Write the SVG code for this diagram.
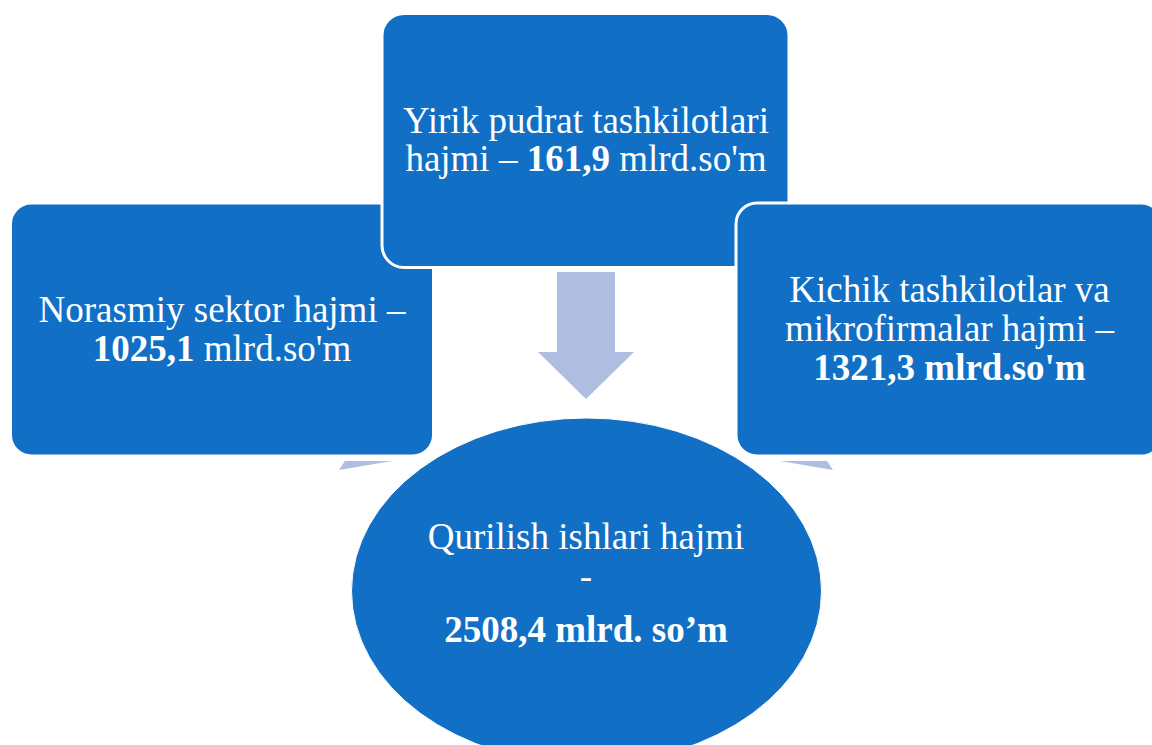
<svg xmlns="http://www.w3.org/2000/svg" width="1152" height="745" viewBox="0 0 1152 745">
<style>
.box{fill:#1170C6;stroke:#FFFFFF;stroke-width:3}
.conn{fill:#AEBDE0;stroke:none}
.t{font-family:"Liberation Serif","Times New Roman",serif;font-size:37px;fill:#FFFFFF;text-anchor:middle}
.b{font-weight:bold}
</style>
<rect width="1152" height="745" fill="#FFFFFF"/>
<g id="connectors">
<polygon class="conn" points="557,272 615,272 615,352 634,352 586,399 538,352 557,352"/>
<polygon class="conn" points="345,461 392,461 339,470"/>
<polygon class="conn" points="780,461 827,461 833,470"/>
</g>
<g id="node-left">
<rect class="box" x="10.5" y="203" width="423" height="253" rx="21"/>
<text class="t" x="222" y="322">Norasmiy sektor hajmi –</text>
<text class="t" x="222" y="361"><tspan class="b">1025,1</tspan> mlrd.so'm</text>
</g>
<g id="node-top">
<rect class="box" x="382" y="13.5" width="407" height="254" rx="22"/>
<text class="t" x="586" y="133">Yirik pudrat tashkilotlari</text>
<text class="t" x="586" y="170.5">hajmi – <tspan class="b">161,9</tspan> mlrd.so'm</text>
</g>
<g id="node-right">
<rect class="box" x="736" y="203" width="426" height="253" rx="21"/>
<text class="t" x="949.5" y="302">Kichik tashkilotlar va</text>
<text class="t" x="949.5" y="341">mikrofirmalar hajmi –</text>
<text class="t b" x="949.5" y="380">1321,3 mlrd.so'm</text>
</g>
<g id="node-center">
<ellipse cx="586.5" cy="591" rx="235" ry="173" fill="#1170C6" stroke="#FFFFFF" stroke-width="1"/>
<text class="t" x="586" y="549">Qurilish ishlari hajmi</text>
<text class="t" x="586" y="589">-</text>
<text class="t b" x="586" y="642">2508,4 mlrd. so’m</text>
</g>
</svg>
